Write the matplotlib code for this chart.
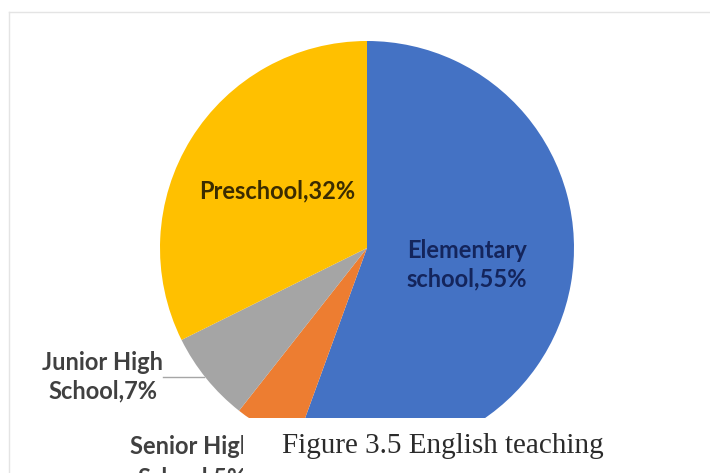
import matplotlib.pyplot as plt
from matplotlib.patches import Rectangle

# share of English teaching by school level
levels = ["Elementary school", "Senior High School", "Junior High School", "Preschool"]
shares = [55, 5, 7, 32]
colors = ["#4472C4", "#ED7D31", "#A5A5A5", "#FFC000"]

W, H = 710, 473
fig = plt.figure(figsize=(W / 100, H / 100), dpi=100)
ax = fig.add_axes([0, 0, 1, 1])

# pie in pixel units, y measured upward
ax.pie(shares, colors=colors, startangle=90, counterclock=False,
       center=(367, H - 248), radius=207, frame=True,
       wedgeprops=dict(linewidth=0))
ax.set_xlim(0, W)
ax.set_ylim(0, H)
ax.axis("off")

lab = dict(family=["Lato", "DejaVu Sans"], fontweight="bold", fontsize=17,
           ha="center", va="center", linespacing=1.3)
ax.text(277, H - 191, "Preschool,32%", color="#3b2c00", **lab)
ax.text(467, H - 265, "Elementary\nschool,55%", color="#14255c", **lab)
ax.text(103, H - 377, "Junior High\nSchool,7%", color="#404040", **lab)
ax.text(192, H - 462, "Senior High\nSchool,5%", color="#404040", zorder=1,
        **{**lab, "linespacing": 1.45})

# leader line for the junior high label
ax.plot([163, 204], [H - 377, H - 377], color="#a6a6a6", lw=1)

# caption box sits over the lower part of the chart
ax.add_patch(Rectangle((243, 0), W - 243, H - 418, facecolor="white",
                       edgecolor="none", zorder=5))
ax.text(443, H - 446, "Figure 3.5 English teaching",
        family=["Liberation Serif", "DejaVu Serif"], fontsize=21,
        color="#2b2b2b", ha="center", va="center", zorder=6)

# thin chart-area border
ax.plot([9, W], [H - 12, H - 12], color="#e4e4e4", lw=1, zorder=7)
ax.plot([9, 9], [H - 12, 0], color="#e4e4e4", lw=1, zorder=7)

fig.savefig("out.png", dpi=100, facecolor="white")
